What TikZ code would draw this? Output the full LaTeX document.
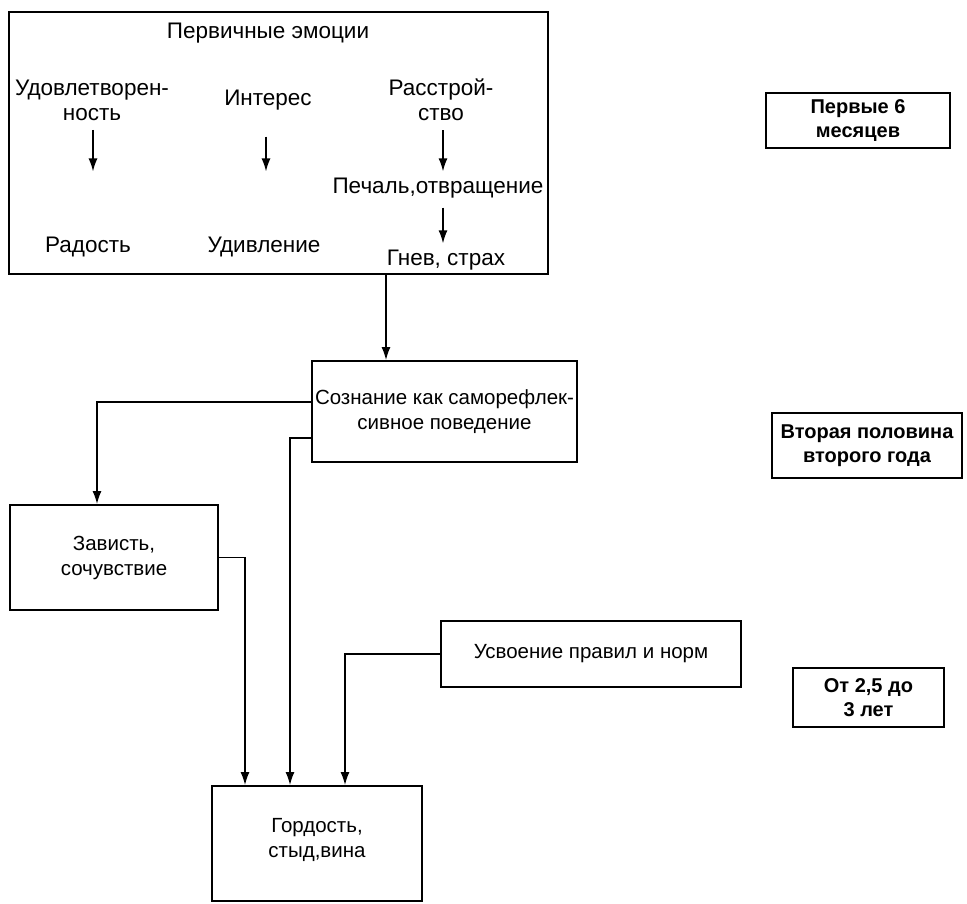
\documentclass[tikz,border=0pt]{standalone}
\usepackage{fontspec}
\setmainfont{Liberation Sans}
\usepackage{tikz}
\usetikzlibrary{arrows.meta}
\usetikzlibrary{calc}
\tikzset{l/.style={font=\fontsize{22.5}{25}\selectfont, align=center}}
\tikzset{m/.style={font=\fontsize{20.5}{25}\selectfont, align=center}}
\tikzset{b/.style={font=\bfseries\fontsize{20}{23.5}\selectfont, align=center}}
\tikzset{box/.style={draw, line width=1.8pt, inner sep=0pt}}
\tikzset{arr/.style={-{Latex[length=13pt,width=9pt]}, line width=1.6pt}}

\begin{document}
\begin{tikzpicture}[x=1pt,y=-1pt]
          \useasboundingbox (0,0) rectangle (967,903);
          % primary emotions
          \node[box, minimum width=539pt, minimum height=262pt] (prim) at (278.5,143) {};
          \node[l] (title) at (268,33) {Первичные эмоции};
          \node[l] (udov) at (92,100) {Удовлетворен-\\ность};
          \node[l] (inter) at (268,100) {Интерес};
          \node[l] (rasst) at (441,100) {Расстрой-\\ство};
          \node[l] (pech) at (438,188) {Печаль,отвращение};
          \node[l] (rad) at (88,247) {Радость};
          \node[l] (udiv) at (264,247) {Удивление};
          \node[l] (gnev) at (446,260) {Гнев, страх};
          \draw[arr, shorten <=6pt, shorten >=62pt] (udov.south -| 93,0) -- (rad.north -| 93,0);
          \draw[arr, shorten <=23pt, shorten >=62pt] (inter.south -| 266,0) -- (udiv.north -| 266,0);
          \draw[arr, shorten <=6pt, shorten >=3pt] (rasst.south -| 443,0) -- (pech.north -| 443,0);
          \draw[arr, shorten <=6pt, shorten >=3pt] (pech.south -| 443,0) -- (gnev.north -| 443,0);
          % second half of second year
          \node[box, m, minimum width=265pt, minimum height=101pt] (sozn) at (444.5,411.5) {Сознание как саморефлек-\\сивное поведение};
          \node[box, m, minimum width=208pt, minimum height=105pt] (zav) at (114,557.5) {Зависть,\\сочувствие};
          \node[box, m, minimum width=300pt, minimum height=66pt] (usv) at (591,654) {Усвоение правил и норм};
          \node[box, minimum width=210pt, minimum height=115pt] (gord) at (317,843.5) {};
          \node[m] (gordt) at (317,840) {Гордость,\\стыд,вина};
          \draw[arr] ([xshift=107.5pt]prim.south) -- ([xshift=107.5pt]prim.south |- sozn.north);
          \draw[arr] ([yshift=9.5pt]sozn.west) -| ([xshift=-17pt]zav.north);
          \draw[arr] ([yshift=-26.5pt]sozn.west) -| ([xshift=-27pt]gord.north);
          \draw[arr] (zav.east) -| ([xshift=-72pt]gord.north);
          \draw[arr] (usv.west) -| ([xshift=28pt]gord.north);
          % periods
          \node[box, b, minimum width=184pt, minimum height=55pt] (per1) at (858,120.5) {Первые 6\\месяцев};
          \node[box, b, minimum width=190pt, minimum height=65pt] (per2) at (867,445.5) {Вторая половина\\второго года};
          \node[box, b, minimum width=151pt, minimum height=59pt] (per3) at (868.5,697.5) {От 2,5 до\\3 лет};
        \end{tikzpicture}
\end{document}
